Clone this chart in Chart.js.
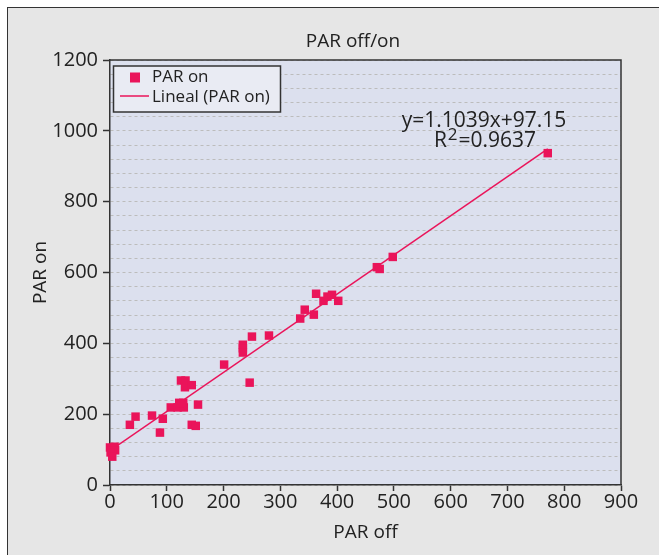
<!DOCTYPE html>
<html>
<head>
<meta charset="utf-8">
<script src="https://cdn.jsdelivr.net/npm/chart.js@4/dist/chart.umd.min.js"></script>
<style>
  html, body { margin: 0; padding: 0; background: #fff; width: 659px; height: 555px; overflow: hidden; }
  #frame { position: absolute; left: 7px; top: 7px; width: 700px; height: 600px; background: #e6e6e6;
           border-top: 1.5px solid #333; border-left: 1.5px solid #333; }
  #c { position: absolute; left: 0; top: 0; }
</style>
</head>
<body>
<div id="frame"></div>
<canvas id="c" width="659" height="555"></canvas>
<script>
const parOff = [0, 8, 3, 9, 1, 4, 35, 45, 74, 88, 93, 107, 119, 130, 122, 129, 125, 133, 132, 144, 144,
                151, 155, 201, 246, 234, 234, 234, 250, 280, 335, 343, 359, 363, 376, 383, 391, 402,
                470, 475, 498, 771];
const parOn  = [106, 108, 97, 98, 92, 80, 170, 193, 196, 148, 187, 219, 219, 219, 232, 232, 295, 295, 276, 282, 170,
                167, 227, 340, 289, 396, 386, 374, 419, 422, 470, 495, 481, 540, 520, 532, 537, 520,
                615, 610, 644, 937];

// Linear trend line end points (Lineal (PAR on))
const trendOff = [0, 771];
const trendOn  = [97, 949];

const xTicks = [0, 100, 200, 300, 400, 500, 600, 700, 800, 900];
const yTicks = [0, 200, 400, 600, 800, 1000, 1200];
const titleText = 'PAR off/on';
const equationText = ['y=1.1039x+97.15', '0.9637'];

const PINK = '#ea145a';
const FONT = "'Open Sans', 'Noto Sans', sans-serif";

// plot background + border on top/right, title, legend box and equation
const decor = {
    id: 'decor',
    beforeDraw(chart) {
        const { ctx, chartArea: a } = chart;
        ctx.save();
        ctx.fillStyle = '#dce0ee';
        ctx.fillRect(a.left, a.top, a.right - a.left, a.bottom - a.top);
        ctx.restore();
    },
    afterDraw(chart) {
        const { ctx, chartArea: a } = chart;
        ctx.save();
        ctx.strokeStyle = '#333';
        ctx.lineWidth = 1.5;
        ctx.beginPath();
        ctx.moveTo(a.left, a.top);
        ctx.lineTo(a.right, a.top);
        ctx.lineTo(a.right, a.bottom);
        ctx.stroke();

        // title (sits a bit left of the plot centre in the original)
        ctx.fillStyle = '#222';
        ctx.font = '19px ' + FONT;
        ctx.textAlign = 'center';
        ctx.textBaseline = 'middle';
        ctx.fillText(titleText, 353, 42);

        // legend
        ctx.fillStyle = '#e9ebf3';
        ctx.fillRect(113.5, 66, 167, 46);
        ctx.strokeRect(113.5, 66, 167, 46);
        ctx.fillStyle = PINK;
        ctx.fillRect(130, 72.5, 10, 10);
        ctx.strokeStyle = PINK;
        ctx.beginPath();
        ctx.moveTo(120, 96);
        ctx.lineTo(149, 96);
        ctx.stroke();
        ctx.fillStyle = '#222';
        ctx.font = '17px ' + FONT;
        ctx.textAlign = 'left';
        ctx.fillText('PAR on', 152, 77);
        ctx.fillText('Lineal (PAR on)', 152, 97);

        // equation
        ctx.font = '21px ' + FONT;
        ctx.textAlign = 'center';
        ctx.fillText(equationText[0], 484, 121);
        const big = '21px ' + FONT, small = '17px ' + FONT;
        ctx.font = big;
        const wR = ctx.measureText('R').width;
        const wRest = ctx.measureText('=' + equationText[1]).width;
        ctx.font = small;
        const w2 = ctx.measureText('2').width;
        let x = 484 - (wR + w2 + wRest) / 2;
        ctx.textAlign = 'left';
        ctx.font = big;
        ctx.fillText('R', x, 141);
        ctx.font = small;
        ctx.fillText('2', x + wR + 1, 135);
        ctx.font = big;
        ctx.fillText('=' + equationText[1], x + wR + w2 + 2, 141);
        ctx.restore();
    }
};

new Chart(document.getElementById('c'), {
    type: 'scatter',
    data: {
        datasets: [
            {
                label: 'PAR on',
                data: parOff.map((x, i) => ({ x: x, y: parOn[i] })),
                backgroundColor: PINK,
                borderWidth: 0,
                pointStyle: 'rect',
                pointRadius: 6,
                clip: false,
                order: 1
            },
            {
                label: 'Lineal (PAR on)',
                data: trendOff.map((x, i) => ({ x: x, y: trendOn[i] })),
                showLine: true,
                borderColor: PINK,
                borderWidth: 1.5,
                pointRadius: 0,
                order: 2
            }
        ]
    },
    options: {
        responsive: false,
        devicePixelRatio: 1,
        animation: false,
        layout: { padding: { left: 0, right: 38, top: 60, bottom: 0 } },
        plugins: {
            legend: { display: false },
            tooltip: { enabled: false },
            title: { display: false }
        },
        scales: {
            x: {
                type: 'linear',
                min: 0,
                max: 900,
                afterFit: s => { s.height = 70; },
                afterBuildTicks: s => { s.ticks = xTicks.map(v => ({ value: v })); },
                ticks: {
                    autoSkip: false,
                    maxRotation: 0,
                    padding: 1,
                    color: '#222',
                    font: { family: FONT, size: 20, lineHeight: 1 }
                },
                grid: {
                    drawOnChartArea: false,
                    drawTicks: true,
                    tickLength: 6,
                    tickColor: '#333',
                    tickWidth: 1.5
                },
                border: { display: true, color: '#333', width: 1.5 },
                title: {
                    display: true,
                    text: 'PAR off',
                    color: '#222',
                    font: { family: FONT, size: 19, lineHeight: 1.2 },
                    padding: { top: 0, bottom: 10.6 }
                }
            },
            y: {
                type: 'linear',
                min: 0,
                max: 1200,
                afterFit: s => { s.width = 110; },
                ticks: {
                    stepSize: 40,
                    autoSkip: false,
                    padding: 5,
                    color: '#222',
                    font: { family: FONT, size: 20, lineHeight: 1 },
                    callback: v => yTicks.includes(v) ? String(v) : ''
                },
                grid: {
                    drawOnChartArea: true,
                    color: '#bcbcbc',
                    lineWidth: 1,
                    drawTicks: true,
                    tickLength: 7,
                    tickWidth: 1.5,
                    tickColor: c => yTicks.includes(c.tick.value) ? '#333' : 'rgba(0,0,0,0)'
                },
                border: { display: true, color: '#333', width: 1.5, dash: [3, 3] },
                title: {
                    display: true,
                    text: 'PAR on',
                    color: '#222',
                    font: { family: FONT, size: 19, lineHeight: 1.2 },
                    padding: { top: 29.6, bottom: 0 }
                }
            }
        }
    },
    plugins: [decor]
});
</script>
</body>
</html>
